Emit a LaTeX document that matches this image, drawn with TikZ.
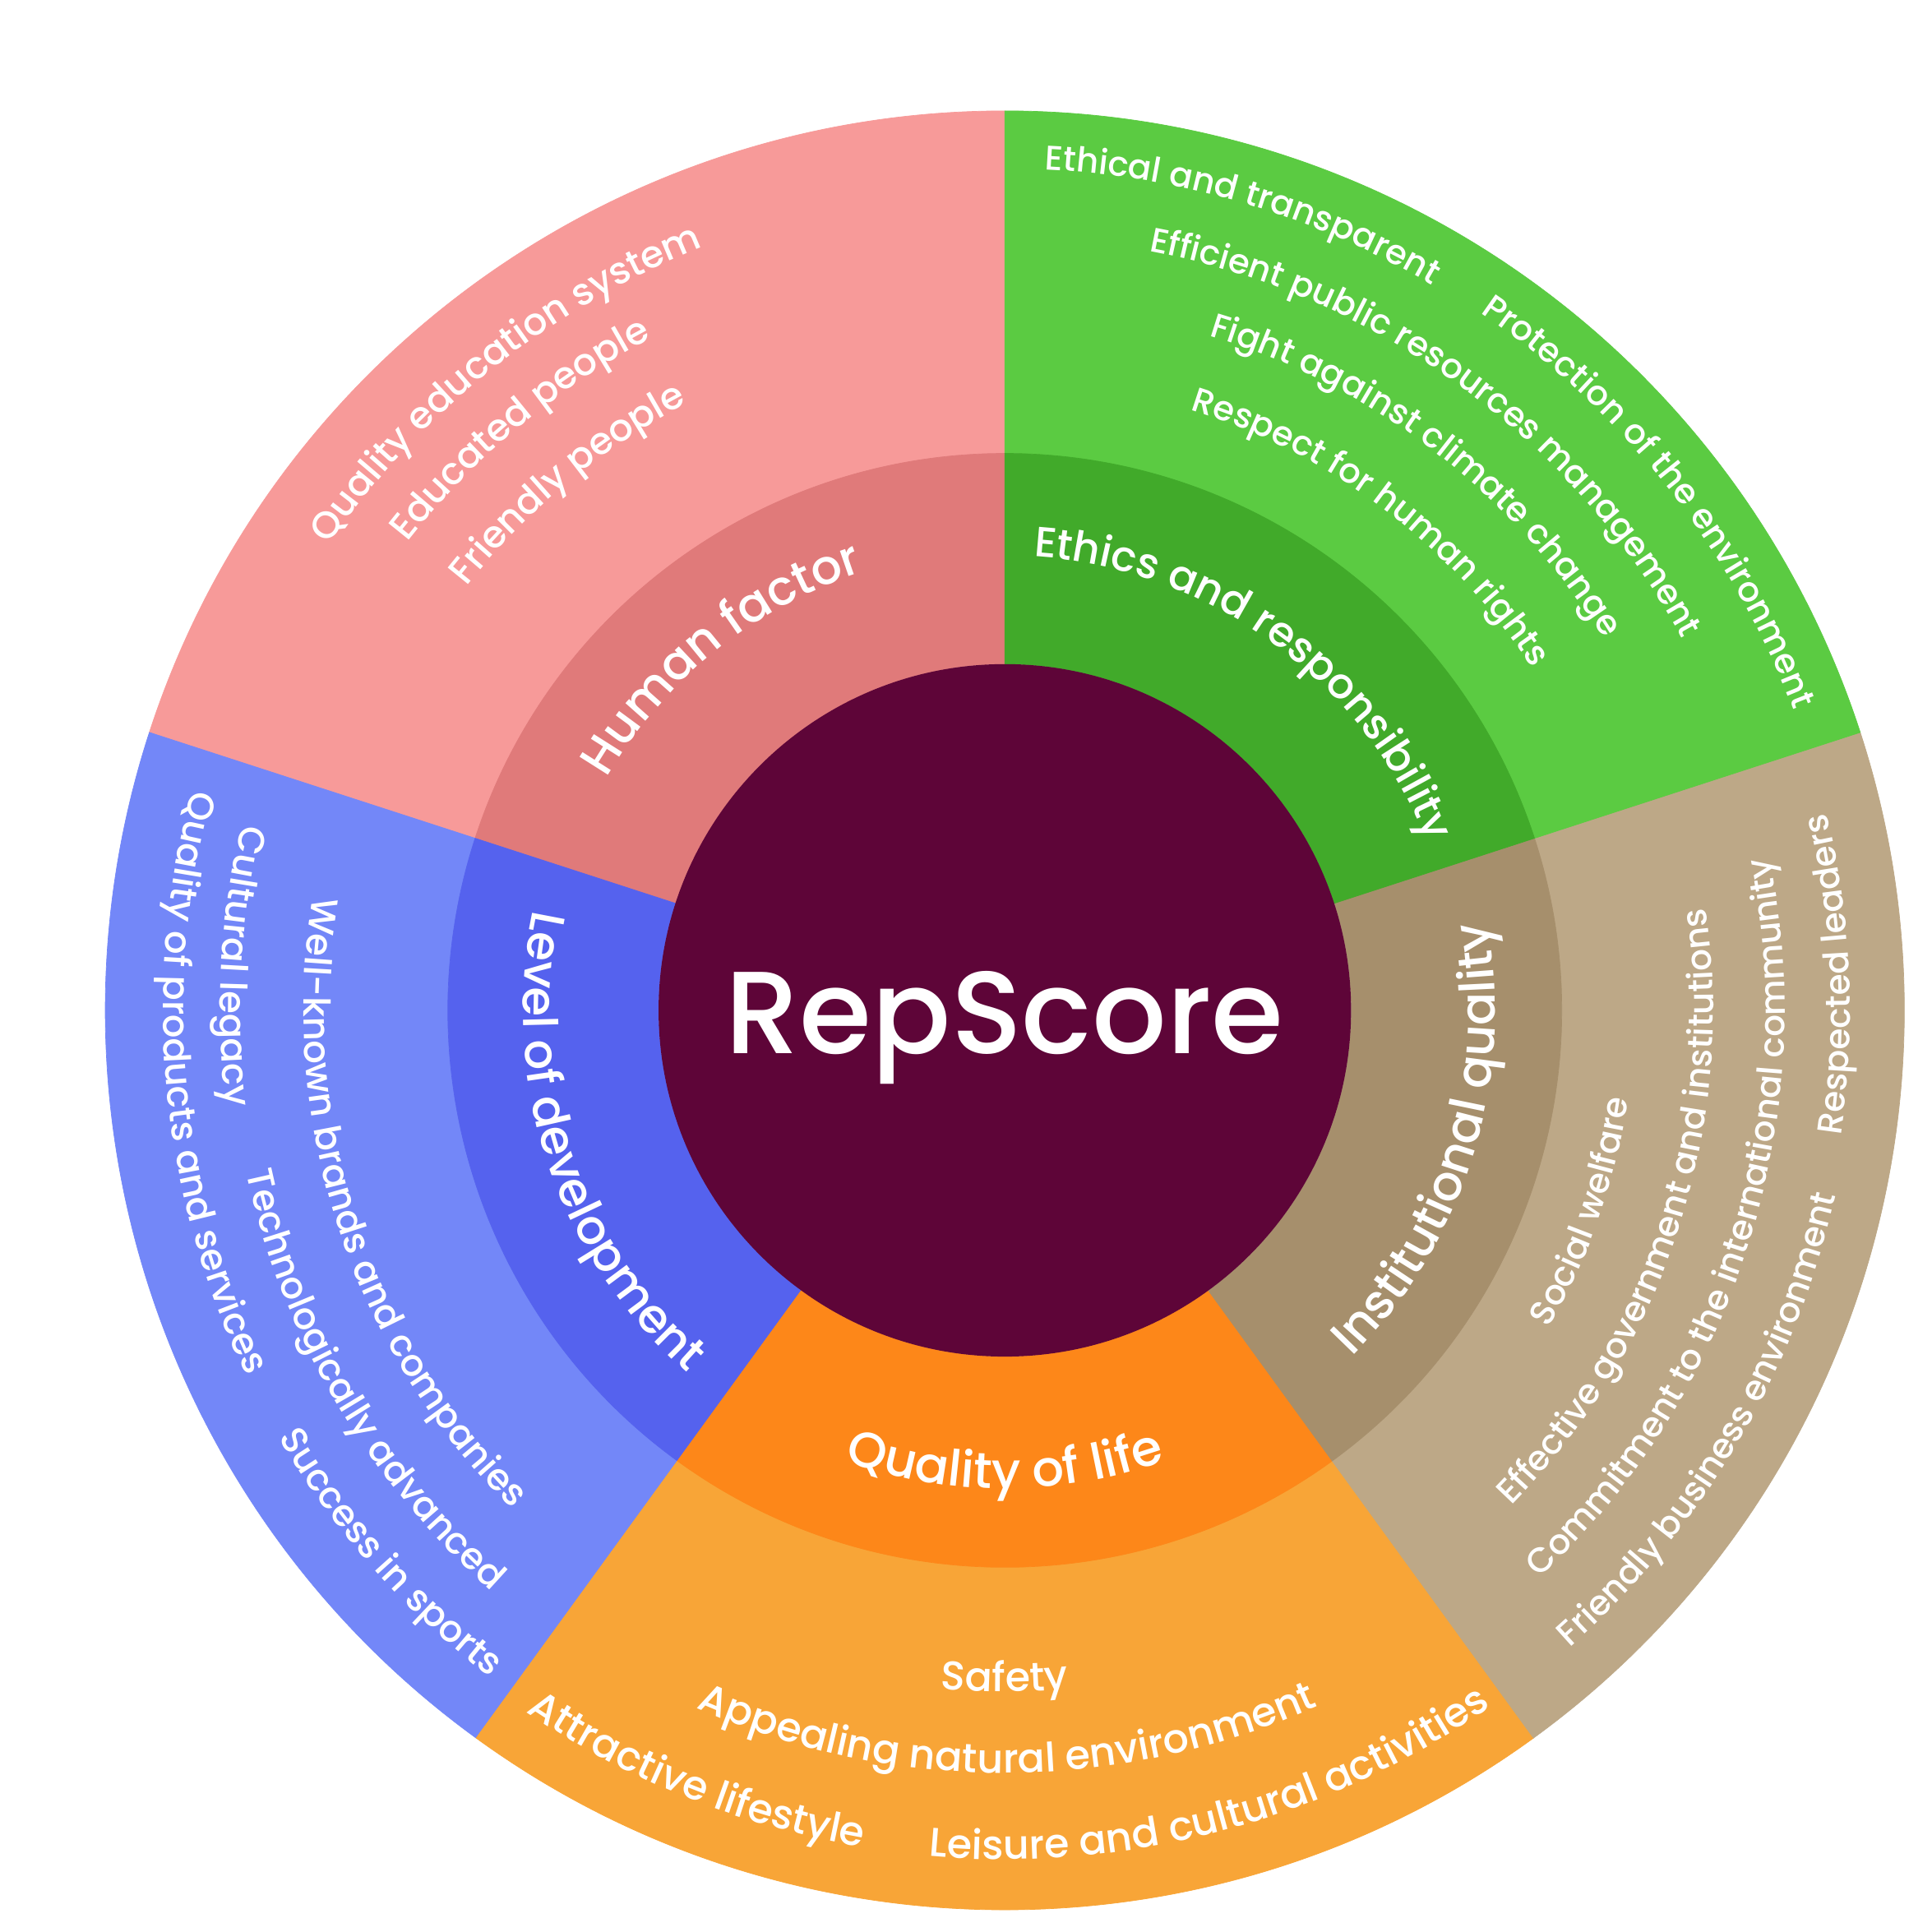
\documentclass[tikz,border=0pt]{standalone}
\usepackage{fontspec}
\IfFontExistsTF{Poppins Medium}{\setmainfont{Poppins Medium}}{\setmainfont{Poppins}[FakeBold=0.6]}
\usetikzlibrary{decorations.text}
\definecolor{core}{HTML}{5E0538}
\definecolor{humanin}{HTML}{E07A7A}
\definecolor{humanout}{HTML}{F79A99}
\definecolor{ethin}{HTML}{41AA2A}
\definecolor{ethout}{HTML}{5BCB42}
\definecolor{instin}{HTML}{A68F6C}
\definecolor{instout}{HTML}{BDA887}
\definecolor{lifein}{HTML}{FD8719}
\definecolor{lifeout}{HTML}{F8A537}
\definecolor{devin}{HTML}{5562EE}
\definecolor{devout}{HTML}{7387F8}

% labels on arcs round the centre: upper half read clockwise, the rest anticlockwise
% #1 font size, #2 mid angle, #3 baseline radius, #4 text
\newcommand{\toplab}[4]{\path[decorate,decoration={text along path,text align=center,text={|\fontsize{#1}{#1}\selectfont\color{white}|#4}}] ({#2+85}:#3) arc[start angle={#2+85},end angle={#2-85},radius=#3];}
\newcommand{\botlab}[4]{\path[decorate,decoration={text along path,text align=center,text={|\fontsize{#1}{#1}\selectfont\color{white}|#4}}] ({#2-85}:#3) arc[start angle={#2-85},end angle={#2+85},radius=#3];}

\begin{document}
\begin{tikzpicture}[x=0.015cm,y=0.015cm]
\useasboundingbox (-815.5,-748) rectangle (752.5,820);
% rings
\foreach \a/\ci/\co in {90/humanin/humanout,162/devin/devout,234/lifein/lifeout,306/instin/instout,18/ethin/ethout}{
  \filldraw[fill=\co,draw=\co,line width=0.2pt] (\a:452) arc[start angle=\a,end angle=\a+72,radius=452] -- ({\a+72}:730) arc[start angle=\a+72,end angle=\a,radius=730] -- cycle;
  \filldraw[fill=\ci,draw=\ci,line width=0.2pt] (\a:281) arc[start angle=\a,end angle=\a+72,radius=281] -- ({\a+72}:452) arc[start angle=\a+72,end angle=\a,radius=452] -- cycle;
}
\fill[core] (0,0) circle[radius=281];
\node[font=\fontsize{40.5}{44}\selectfont,text=white,anchor=base] (rep) at (0,-35) {RepScore};

% inner ring
\toplab{16.7}{128.8}{374}{Human factor}
\toplab{14.6}{54}{369}{Ethics and responsibility}
\botlab{16.9}{-17.2}{398}{Institutional quality}
\botlab{17.3}{-90}{388}{Quality of life}
\botlab{16.5}{198.4}{391}{Level of development}

% human factor
\toplab{13}{128.5}{666}{Quality education system}
\toplab{13}{129.8}{616}{Educated people}
\toplab{13}{129.7}{556}{Friendly people}
% ethics and responsibility
\toplab{11.9}{73.4}{683}{Ethical and transparent}
\toplab{11.9}{38.3}{685}{Protection of the environment}
\toplab{11.9}{54}{627}{Efficient public resources management}
\toplab{11.9}{52.5}{572}{Fight against climate change}
\toplab{11.9}{52.9}{510}{Respect for human rights}
% institutional quality
\botlab{12}{2.5}{686}{Respected leaders}
\botlab{12}{-17.7}{633}{Commitment to the international community}
\botlab{12}{-18}{575}{Effective government and institutions}
\botlab{12}{-19.2}{511}{Social welfare}
\botlab{12}{-30.5}{691}{Friendly business environment}
% quality of life
\botlab{14}{-90}{553}{Safety}
\botlab{14}{-89.8}{619}{Appealing natural environment}
\botlab{14}{-112}{689}{Attractive lifestyle}
\botlab{14}{-75.1}{689}{Leisure and cultural activities}
% level of development
\botlab{12.8}{185.3}{683}{Quality of products and services}
\botlab{12.8}{176.7}{637}{Cultural legacy}
\botlab{12.8}{198}{569}{Well-known brands and companies}
\botlab{12.8}{210.3}{629}{Technologically advanced}
\botlab{12.8}{221.4}{684}{Success in sports}
\end{tikzpicture}
\end{document}
